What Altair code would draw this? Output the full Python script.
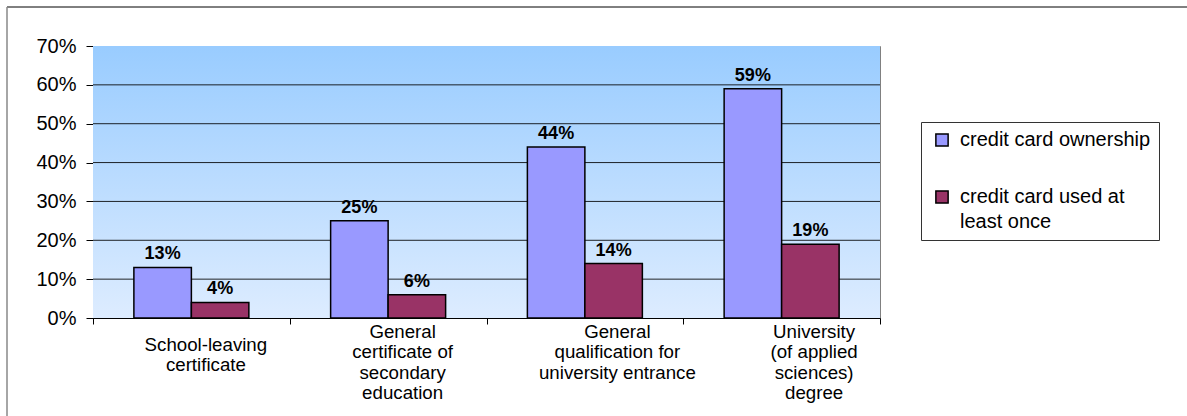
import altair as alt
import pandas as pd

# Category names (line breaks mark where the axis label wraps)
categories = [
    "School-leaving\ncertificate",
    "General\ncertificate of\nsecondary\neducation",
    "General\nqualification for\nuniversity entrance",
    "University\n(of applied\nsciences)\ndegree",
]
series = ["credit card ownership", "credit card used at\nleast once"]
ownership = [13, 25, 44, 59]   # percent
used_once = [4, 6, 14, 19]     # percent
y_ticks = [0, 10, 20, 30, 40, 50, 60, 70]
colors = ["#9999FF", "#993366"]

rows = []
for cat, a, b in zip(categories, ownership, used_once):
    rows.append({"category": cat, "series": series[0], "share": a / 100})
    rows.append({"category": cat, "series": series[1], "share": b / 100})
df = pd.DataFrame(rows)
grid_df = pd.DataFrame({"share": [v / 100 for v in y_ticks]})

W, H = 787, 272
FONT = "Liberation Sans"

x_enc = alt.X(
    "category:N",
    sort=categories,
    title=None,
    scale=alt.Scale(paddingInner=0, paddingOuter=0),
    axis=alt.Axis(
        labelAngle=0,
        labelExpr="split(datum.label, '\\n')",
        labelFont=FONT,
        labelFontSize=18.7,
        labelLineHeight=20.5,
        labelBaseline="top",
        labelColor="black",
        labelOverlap=False,
        labelLimit=400,
        labelPadding={"condition": {"test": "datum.index < 0.1", "value": 11}, "value": -2},
        labelOffset={"condition": {"test": "datum.index > 0.5", "value": 32}, "value": 14},
        tickBand="extent",
        tickSize=6,
        tickColor="black",
        domainColor="black",
        grid=False,
    ),
)
xoff_enc = alt.XOffset(
    "series:N", sort=series, scale=alt.Scale(paddingInner=0, paddingOuter=0.711)
)
y_enc = alt.Y(
    "share:Q",
    title=None,
    scale=alt.Scale(domain=[0, 0.7], nice=False),
    axis=alt.Axis(
        values=[v / 100 for v in y_ticks],
        format=".0%",
        labelFont=FONT,
        labelFontSize=20,
        labelColor="black",
        labelPadding=10,
        labelOverlap=False,
        tickSize=7,
        tickColor="black",
        domainColor="black",
        grid=False,
    ),
)
color_enc = alt.Color(
    "series:N",
    sort=series,
    scale=alt.Scale(domain=series, range=colors),
    legend=alt.Legend(
        title=None,
        orient="none",
        legendX=828,
        legendY=76,
        padding=8,
        strokeColor="#333333",
        fillColor="white",
        symbolType="square",
        symbolSize=150,
        symbolOffset=3,
        symbolStrokeColor="black",
        symbolStrokeWidth=1.5,
        symbolOpacity=1,
        labelExpr="split(datum.label, '\\n')",
        labelFont=FONT,
        labelFontSize=20,
        labelColor="black",
        labelLimit=400,
        labelOffset=8,
        rowPadding=37,
    ),
)

background = alt.Chart(alt.Data(values=[{}])).mark_rect(
    color=alt.LinearGradient(
        gradient="linear",
        stops=[
            alt.GradientStop(offset=0, color="#99CCFF"),
            alt.GradientStop(offset=1, color="#DDECFF"),
        ],
        x1=0, x2=0, y1=0, y2=1,
    )
).encode(x=alt.value(0), x2=alt.value(W), y=alt.value(0), y2=alt.value(H))

# horizontal gridlines at the inner tick values, drawn above the gradient
grid = alt.Chart(grid_df).mark_rule(color="black", strokeWidth=1, opacity=0.85).encode(
    y=y_enc
).transform_filter("datum.share > 0 && datum.share < 0.69")

bars = alt.Chart(df).mark_bar(stroke="black", strokeWidth=1.5, opacity=1).encode(
    x=x_enc, xOffset=xoff_enc, y=y_enc, color=color_enc
)

labels = alt.Chart(df).mark_text(
    font=FONT, fontSize=18, fontWeight="bold", baseline="bottom", dy=-4, color="black"
).encode(
    x=x_enc,
    xOffset=alt.XOffset("series:N", sort=series),
    y=y_enc,
    text=alt.Text("share:Q", format=".0%"),
)

# outer frame lines around the chart object
frame_top = alt.Chart(alt.Data(values=[{}])).mark_rule(color="black", strokeWidth=1).encode(
    x=alt.value(-86), x2=alt.value(1100), y=alt.value(-39)
)
frame_left = alt.Chart(alt.Data(values=[{}])).mark_rule(color="#888888", strokeWidth=1.5).encode(
    x=alt.value(-86), y=alt.value(-39), y2=alt.value(380)
)

chart = (
    alt.layer(background, grid, bars, labels, frame_top, frame_left)
    .properties(
        width=W,
        height=H,
        autosize=alt.AutoSizeParams(type="none"),
        padding={"left": 93, "top": 46, "right": 307, "bottom": 98},
        background="white",
    )
    .configure(
        view=alt.ViewConfig(stroke="#808080", strokeWidth=1),
        style={"guide-label": {"lineHeight": 25}},
    )
)

chart.save("out.html", embed_options={"renderer": "svg", "actions": False})
